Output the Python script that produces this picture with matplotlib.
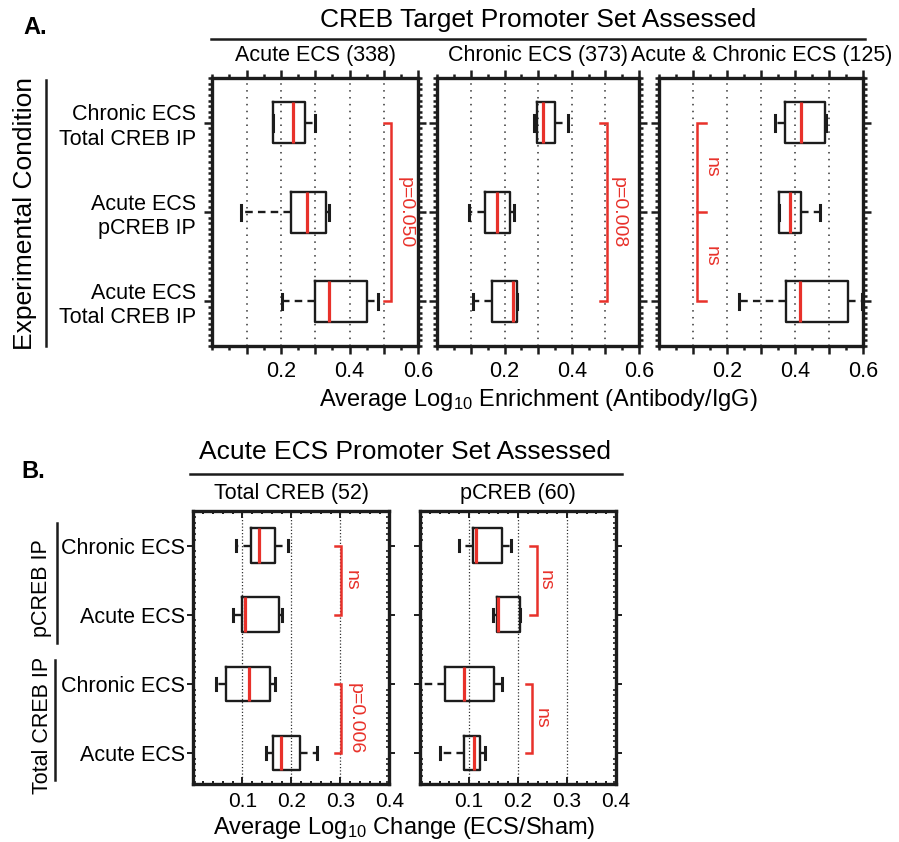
import matplotlib
matplotlib.use("Agg")
import matplotlib.pyplot as plt
from matplotlib.ticker import FixedLocator, MultipleLocator, FuncFormatter
from matplotlib.lines import Line2D

plt.rcParams['font.family'] = ['Liberation Sans', 'DejaVu Sans']
plt.rcParams['mathtext.default'] = 'regular'

# ---------------- data ----------------
A_titles = ["Acute ECS (338)", "Chronic ECS (373)", "Acute & Chronic ECS (125)"]
A_rows = ["Chronic ECS\nTotal CREB IP", "Acute ECS\npCREB IP", "Acute ECS\nTotal CREB IP"]

# per panel, rows listed top -> bottom
A1_whislo = [0.178, 0.083, 0.203]
A1_q1 = [0.178, 0.229, 0.300]
A1_med = [0.236, 0.276, 0.341]
A1_q3 = [0.271, 0.331, 0.450]
A1_whishi = [0.300, 0.341, 0.482]

A2_whislo = [0.287, 0.095, 0.105]
A2_q1 = [0.297, 0.142, 0.163]
A2_med = [0.314, 0.177, 0.226]
A2_q3 = [0.349, 0.217, 0.236]
A2_whishi = [0.389, 0.227, 0.236]

A3_whislo = [0.340, 0.352, 0.233]
A3_q1 = [0.371, 0.352, 0.374]
A3_med = [0.418, 0.384, 0.413]
A3_q3 = [0.486, 0.418, 0.556]
A3_whishi = [0.491, 0.472, 0.596]

A_x_ticks = [0.1, 0.2, 0.3, 0.4, 0.5, 0.6]

B_titles = ["Total CREB (52)", "pCREB (60)"]
B_rows = ["Chronic ECS", "Acute ECS", "Chronic ECS", "Acute ECS"]
B_groups = ["pCREB IP", "Total CREB IP"]

B1_whislo = [0.087, 0.082, 0.046, 0.149]
B1_q1 = [0.117, 0.100, 0.067, 0.162]
B1_med = [0.135, 0.106, 0.113, 0.178]
B1_q3 = [0.166, 0.174, 0.157, 0.218]
B1_whishi = [0.193, 0.181, 0.166, 0.253]

B2_whislo = [0.080, 0.148, -0.020, 0.040]
B2_q1 = [0.108, 0.158, 0.050, 0.089]
B2_med = [0.115, 0.160, 0.089, 0.110]
B2_q3 = [0.167, 0.205, 0.150, 0.123]
B2_whishi = [0.185, 0.205, 0.168, 0.132]

B_x_ticks = [0.1, 0.2, 0.3, 0.4]

# significance annotations: (label(s), row_from, row_to, x_line, x_tick_end, x_text)
A_sig = [
    (["p=0.050"], 1, 3, 0.521, 0.500, 0.562),
    (["p=0.008"], 1, 3, 0.505, 0.483, 0.537),
    (["ns", "ns"], 1, 3, 0.111, 0.136, 0.152),
]
B_sig = [
    [(["ns"], 1, 2, 0.301, 0.289, 0.322), (["p=0.006"], 3, 4, 0.301, 0.289, 0.331)],
    [(["ns"], 1, 2, 0.238, 0.224, 0.256), (["ns"], 3, 4, 0.229, 0.217, 0.247)],
]

BLACK = "#1c1c1c"
RED = "#e8312a"

W, H = 899, 842
fig = plt.figure(figsize=(W / 100, H / 100), dpi=100)


def fx(px):
    return px / W


def fy(py):
    return 1 - py / H


def axes_px(l, t, r, b):
    return fig.add_axes([fx(l), fy(b), (r - l) / W, (b - t) / H])


def draw_boxes(ax, whislo, q1, med, q3, whishi, width, capw, wlw):
    stats = [dict(whislo=a, q1=b, med=c, q3=d, whishi=e, fliers=[])
             for a, b, c, d, e in zip(whislo, q1, med, q3, whishi)]
    pos = list(range(1, len(stats) + 1))
    kw = dict(positions=pos, widths=width, capwidths=capw, showfliers=False,
              boxprops=dict(color=BLACK, lw=wlw),
              medianprops=dict(color=RED, lw=2.3, solid_capstyle='butt'),
              whiskerprops=dict(color=BLACK, lw=wlw, linestyle=(0, (3.2, 2.2))),
              capprops=dict(color=BLACK, lw=2.2), manage_ticks=False)
    try:
        ax.bxp(stats, orientation='horizontal', **kw)
    except TypeError:
        ax.bxp(stats, vert=False, **kw)


def draw_sig(ax, sig, fs):
    labels, r0, r1, xl, xt, xtext = sig
    ax.plot([xt, xl, xl, xt], [r0, r0, r1, r1], color=RED, lw=1.8, solid_joinstyle='miter')
    if len(labels) == 1:
        ax.text(xtext, (r0 + r1) / 2, labels[0], rotation=-90, color=RED,
                fontsize=fs, ha='center', va='center')
    else:
        mid = (r0 + r1) / 2
        ax.plot([xl, xt], [mid, mid], color=RED, lw=1.8)
        for lab, y in zip(labels, [(r0 + mid) / 2, (mid + r1) / 2]):
            ax.text(xtext, y, lab, rotation=-90, color=RED, fontsize=fs,
                    ha='center', va='center')


# ---------------- panel A ----------------
A_boxes = [
    (A1_whislo, A1_q1, A1_med, A1_q3, A1_whishi),
    (A2_whislo, A2_q1, A2_med, A2_q3, A2_whishi),
    (A3_whislo, A3_q1, A3_med, A3_q3, A3_whishi),
]
A_px = [(212.3, 78.3, 418.3, 346), (437.3, 78.3, 639, 346), (659.3, 78.3, 863.3, 346)]

for i, (data, px, title, sig) in enumerate(zip(A_boxes, A_px, A_titles, A_sig)):
    ax = axes_px(*px)
    ax.set_xlim(0, 0.6)
    ax.set_ylim(3.5, 0.5)
    ax.xaxis.set_major_locator(FixedLocator(A_x_ticks))
    ax.xaxis.set_major_formatter(FuncFormatter(
        lambda v, p: f"{v:.1f}" if round(v * 10) % 2 == 0 else ""))
    ax.xaxis.set_minor_locator(MultipleLocator(0.05))
    ax.grid(axis='x', which='major', color='#333333', lw=1.1, linestyle=(0, (1, 3.5)))
    ax.set_axisbelow(True)
    draw_boxes(ax, *data, width=0.46, capw=0.17, wlw=1.7)
    draw_sig(ax, sig, 14)
    ax.set_yticks([1, 2, 3])
    ax.yaxis.set_minor_locator(MultipleLocator(1 / 16))
    if i == 0:
        ax.set_yticklabels(A_rows, fontsize=15.5)
    else:
        ax.set_yticklabels([])
    ax.tick_params(axis='both', which='both', direction='out', top=True, right=True,
                   color=BLACK, width=1.8)
    ax.tick_params(axis='both', which='major', length=6)
    ax.tick_params(axis='both', which='minor', length=3)
    ax.tick_params(axis='y', which='major', pad=6)
    ax.tick_params(axis='x', labelsize=15.5, pad=5)
    for s in ax.spines.values():
        s.set_linewidth(2.4)
        s.set_color(BLACK)
    cx = (px[0] + px[2]) / 2
    fig.text(fx(cx), fy(55), title, fontsize=15.5, ha='center', va='center')

fig.text(fx(538), fy(20), "CREB Target Promoter Set Assessed", fontsize=19,
         ha='center', va='center')
fig.add_artist(Line2D([fx(211), fx(865)], [fy(38.5), fy(38.5)], color=BLACK, lw=1.8))
fig.text(fx(538), fy(400), "Average Log$_{10}$ Enrichment (Antibody/IgG)", fontsize=17,
         ha='center', va='center')
fig.text(fx(35), fy(28), "A.", fontsize=17, fontweight='bold', ha='center', va='center')
fig.text(fx(25), fy(213), "Experimental Condition", fontsize=19, rotation=90,
         ha='center', va='center')
fig.add_artist(Line2D([fx(46), fx(46)], [fy(80), fy(346)], color=BLACK, lw=1.8))

# ---------------- panel B ----------------
B_boxes = [
    (B1_whislo, B1_q1, B1_med, B1_q3, B1_whishi),
    (B2_whislo, B2_q1, B2_med, B2_q3, B2_whishi),
]
B_px = [(193.3, 511, 389.3, 784), (420, 511, 616, 784)]

for i, (data, px, title, sigs) in enumerate(zip(B_boxes, B_px, B_titles, B_sig)):
    ax = axes_px(*px)
    ax.set_xlim(0, 0.4)
    ax.set_ylim(4.45, 0.5)
    ax.xaxis.set_major_locator(FixedLocator(B_x_ticks))
    ax.xaxis.set_major_formatter(FuncFormatter(lambda v, p: f"{v:.1f}"))
    ax.xaxis.set_minor_locator(MultipleLocator(0.02))
    ax.grid(axis='x', which='major', color='#333333', lw=0.9, linestyle=(0, (1, 1.6)))
    ax.set_axisbelow(True)
    draw_boxes(ax, *data, width=0.5, capw=0.17, wlw=1.7)
    for sig in sigs:
        draw_sig(ax, sig, 14)
    ax.set_yticks([1, 2, 3, 4])
    ax.yaxis.set_minor_locator(MultipleLocator(1 / 12))
    if i == 0:
        ax.set_yticklabels(B_rows, fontsize=15.5)
    else:
        ax.set_yticklabels([])
    ax.tick_params(axis='x', which='both', direction='in', top=True, color=BLACK, width=1.4)
    ax.tick_params(axis='y', which='major', direction='out', left=True, right=True,
                   length=4, color=BLACK, width=1.4, pad=2)
    ax.tick_params(axis='y', which='minor', direction='in', left=True, right=True,
                   length=2.5, color=BLACK, width=1.2)
    ax.tick_params(axis='x', which='major', length=5, labelsize=15, pad=6)
    ax.tick_params(axis='x', which='minor', length=2.5)
    for s in ax.spines.values():
        s.set_linewidth(2.4)
        s.set_color(BLACK)
    cx = (px[0] + px[2]) / 2
    fig.text(fx(cx), fy(494), title, fontsize=15.5, ha='center', va='center')

fig.text(fx(405), fy(452), "Acute ECS Promoter Set Assessed", fontsize=19,
         ha='center', va='center')
fig.add_artist(Line2D([fx(190), fx(622)], [fy(474), fy(474)], color=BLACK, lw=1.8))
fig.text(fx(404), fy(828), "Average Log$_{10}$ Change (ECS/Sham)", fontsize=17,
         ha='center', va='center')
fig.text(fx(33), fy(472), "B.", fontsize=17, fontweight='bold', ha='center', va='center')

fig.text(fx(42), fy(588), B_groups[0], fontsize=15.5, rotation=90, ha='center', va='center')
fig.add_artist(Line2D([fx(57), fx(57)], [fy(523), fy(643)], color=BLACK, lw=1.8))
fig.text(fx(42), fy(725), B_groups[1], fontsize=15.5, rotation=90, ha='center', va='center')
fig.add_artist(Line2D([fx(55), fx(55)], [fy(660), fy(780)], color=BLACK, lw=1.8))

fig.savefig("out.png", dpi=100)
